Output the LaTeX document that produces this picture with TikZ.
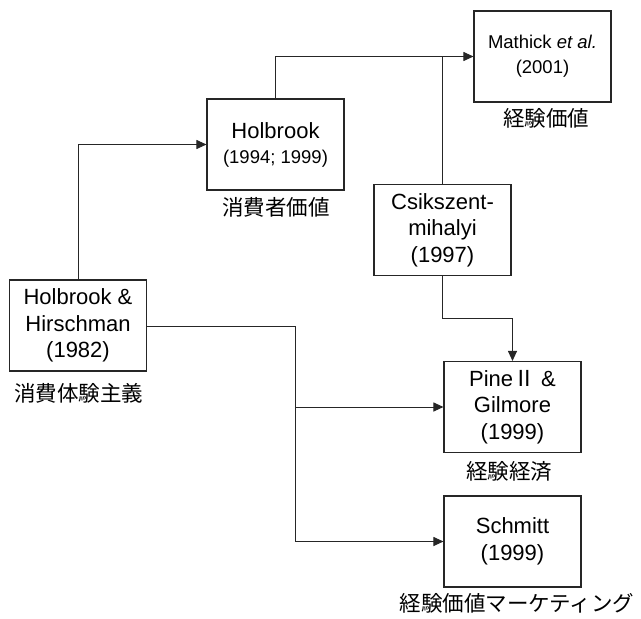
\documentclass[tikz,border=0pt]{standalone}
\usepackage{fontspec}
\setmainfont{Liberation Sans}
\newfontfamily\cjk{Noto Sans CJK JP}
\usetikzlibrary{arrows.meta}
\begin{document}
\begin{tikzpicture}[x=1pt,y=-1pt,
  refbox/.style={draw=black!85,line width=1.1pt,minimum width=137pt,minimum height=91pt,
    inner sep=0pt,align=center,font=\fontsize{22}{26.5}\selectfont},
  smallbox/.style={refbox,font=\fontsize{18.5}{25}\selectfont},
  jlabel/.style={font=\cjk\fontsize{21.5}{24}\selectfont,inner sep=0pt},
  conn/.style={draw=black!85,line width=1pt},
  arr/.style={conn,-{Triangle[length=10pt,width=9pt]}}]
\useasboundingbox (0,0) rectangle (641,619);
\node[refbox] (hh) at (78,325.5) {Holbrook \&\\Hirschman\\(1982)};
\node[smallbox] (hb) at (275.5,144.5) {{\fontsize{22}{25}\selectfont Holbrook}\\(1994; 1999)};
\node[smallbox] (mat) at (542.5,56.5) {Mathick \textit{et al.}\\(2001)};
\node[refbox] (cs) at (442.5,230) {Csikszent-\\mihalyi\\(1997)};
\node[refbox] (pine) at (512.5,407) {Pine{\cjk Ⅱ} \&\\Gilmore\\(1999)};
\node[refbox] (sch) at (512.5,541.5) {Schmitt\\(1999)};
\node[jlabel] (l1) at (79,393) {消費体験主義};
\node[jlabel] (l2) at (276,207) {消費者価値};
\node[jlabel] (l3) at (546,118) {経験価値};
\node[jlabel] (l4) at (509,471) {経験経済};
\node[jlabel] (l5) at (517,603) {経験価値マーケティング};
\coordinate (j1) at (442.5,318);
\coordinate (j2) at (295,326);
\draw[arr] (hh.north) |- (hb.west);
\draw[arr] (hb.north) |- (mat.west);
\draw[conn] (cs.north) -- (cs.north |- mat.west);
\draw[arr] (cs.south) -- (j1) -| (pine.north);
\draw[arr] (hh.east |- j2) -- (j2) |- (sch.west);
\draw[arr] (j2 |- pine.west) -- (pine.west);
\end{tikzpicture}
\end{document}
